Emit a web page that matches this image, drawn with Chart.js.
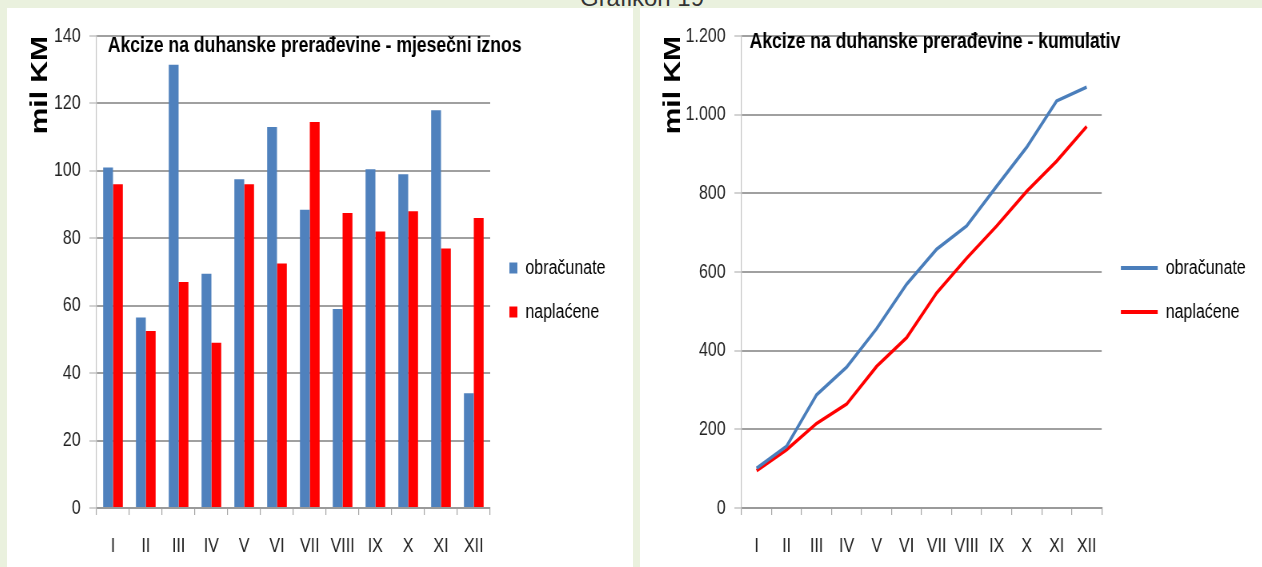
<!DOCTYPE html>
<html>
<head>
<meta charset="utf-8">
<script src="https://cdn.jsdelivr.net/npm/chart.js"></script>
<style>
  body { margin: 0; width: 1262px; height: 567px; background: #eaf1de; position: relative; overflow: hidden; font-family: 'Liberation Sans', Arial, sans-serif; }
  #naslov { position: absolute; left: 642px; top: -16px; transform: translateX(-50%); font-size: 24px; color: #333; white-space: nowrap; }
  .panel { position: absolute; top: 8px; height: 559px; background: #fff; overflow: hidden; }
  #lijevo { left: 7px; width: 626px; }
  #desno { left: 640px; width: 622px; }
  /* original je sabijen po širini, pa se platno crta šire i stisne */
  canvas { display: block; transform: scaleX(0.8); transform-origin: 0 0; }
</style>
</head>
<body>
<div id="naslov">Grafikon 19</div>
<div class="panel" id="lijevo"><canvas id="mjesecniChart" width="783" height="559"></canvas></div>
<div class="panel" id="desno"><canvas id="kumulativChart" width="778" height="559"></canvas></div>
<script>
// podaci očitani sa grafikona (mil KM)
const mjeseci = ['I', 'II', 'III', 'IV', 'V', 'VI', 'VII', 'VIII', 'IX', 'X', 'XI', 'XII'];
const obracunate = [101, 56.5, 131.5, 69.5, 97.5, 113, 88.5, 59, 100.5, 99, 118, 34];
const naplacene = [96, 52.5, 67, 49, 96, 72.5, 114.5, 87.5, 82, 88, 77, 86];
const obracunateKum = [101, 157, 288, 358, 456, 569, 658, 717, 818, 917, 1035, 1070];
const naplaceneKum = [95, 148, 215, 264, 360, 433, 547, 635, 717, 805, 882, 970];
const mjesecniTicks = [0, 20, 40, 60, 80, 100, 120, 140];
const kumulativTicks = [0, 200, 400, 600, 800, 1000, 1200];

const font = "'Liberation Sans', Arial, sans-serif";
const plava = '#4f81bd';
const crvena = '#ff0000';

// naslov grafa crta se unutar površine grafa, preko gornje linije mreže
const naslovPlugin = {
    id: 'naslovGrafa',
    afterDraw(chart, args, opts) {
        const { ctx, chartArea } = chart;
        ctx.save();
        ctx.font = 'bold 22px ' + font;
        ctx.fillStyle = '#000';
        ctx.textBaseline = 'middle';
        ctx.fillText(opts.text, chartArea.left + opts.dx, chartArea.top + opts.dy);
        ctx.restore();
    }
};

function brojSaTackom(v) {
    return String(v).replace(/\B(?=(\d{3})+(?!\d))/g, '.');
}

function osi(ticks, yWidth, labelFmt) {
    return {
        x: {
            offset: true,
            afterFit: function(scale) { scale.height = 59; },
            grid: { display: true, drawOnChartArea: false, drawTicks: true, tickLength: 7, offset: true, color: '#a6a6a6', lineWidth: 1.2 },
            border: { color: '#9a9a9a', width: 2 },
            ticks: { color: '#222', font: { family: font, size: 20 }, padding: 19, maxRotation: 0, autoSkip: false }
        },
        y: {
            min: ticks[0],
            max: ticks[ticks.length - 1],
            afterFit: function(scale) { scale.width = yWidth; },
            afterBuildTicks: function(scale) { scale.ticks = ticks.map(v => ({ value: v })); },
            grid: { color: '#a0a0a0', lineWidth: 2, tickLength: 9, tickColor: '#b5b5b5', tickWidth: 1.2 },
            border: { color: '#c4c4c4', width: 1.2 },
            ticks: { color: '#222', font: { family: font, size: 20 }, padding: 11, callback: labelFmt },
            title: { display: true, text: 'mil KM', align: 'end', padding: 0, color: '#000', font: { family: font, size: 30, weight: 'bold' } }
        }
    };
}

function legenda(boxW, boxH) {
    return {
        position: 'right',
        align: 'center',
        labels: {
            boxWidth: boxW,
            boxHeight: boxH,
            padding: 24,
            color: '#000',
            font: { family: font, size: 20 },
            generateLabels: function(chart) {
                const items = Chart.defaults.plugins.legend.labels.generateLabels(chart);
                items.forEach(it => { it.lineWidth = 0; });
                return items;
            }
        }
    };
}

// prazan razmak iznad površine grafa (samo iznad grafa, ne iznad legende)
const razmakGore = { display: true, text: '', fullSize: false, padding: { top: 0, bottom: 11 }, font: { size: 10 } };

// pomjeri desnu ivicu površine grafa na mjesto sa slike
function poravnaj(chart, desno) {
    chart.options.layout.padding.right += chart.chartArea.right - desno;
    chart.update('none');
}

const mjesecniChart = new Chart(document.getElementById('mjesecniChart'), {
    type: 'bar',
    data: {
        labels: mjeseci,
        datasets: [
            { label: 'obračunate', data: obracunate, backgroundColor: plava, borderWidth: 0, categoryPercentage: 0.6, barPercentage: 1.0 },
            { label: 'naplaćene', data: naplacene, backgroundColor: crvena, borderWidth: 0, categoryPercentage: 0.6, barPercentage: 1.0 }
        ]
    },
    options: {
        responsive: false,
        animation: false,
        layout: { padding: { top: 5, left: 24, bottom: 0, right: 0 } },
        scales: osi(mjesecniTicks, 88, v => v),
        plugins: {
            title: razmakGore,
            legend: legenda(10, 11),
            tooltip: { enabled: false },
            naslovGrafa: { text: 'Akcize na duhanske prerađevine - mjesečni iznos', dx: 14, dy: 10 }
        }
    },
    plugins: [naslovPlugin]
});
poravnaj(mjesecniChart, 604);

const kumulativChart = new Chart(document.getElementById('kumulativChart'), {
    type: 'line',
    data: {
        labels: mjeseci,
        datasets: [
            { label: 'obračunate', data: obracunateKum, borderColor: '#4a7ebb', backgroundColor: '#4a7ebb', borderWidth: 3.5, pointRadius: 0, tension: 0 },
            { label: 'naplaćene', data: naplaceneKum, borderColor: crvena, backgroundColor: crvena, borderWidth: 3.5, pointRadius: 0, tension: 0 }
        ]
    },
    options: {
        responsive: false,
        animation: false,
        layout: { padding: { top: 5, left: 24, bottom: 0, right: 0 } },
        scales: osi(kumulativTicks, 103, v => brojSaTackom(v)),
        plugins: {
            title: razmakGore,
            legend: legenda(46, 4),
            tooltip: { enabled: false },
            naslovGrafa: { text: 'Akcize na duhanske prerađevine - kumulativ', dx: 10, dy: 6 }
        }
    },
    plugins: [naslovPlugin]
});
poravnaj(kumulativChart, 573);
</script>
</body>
</html>
